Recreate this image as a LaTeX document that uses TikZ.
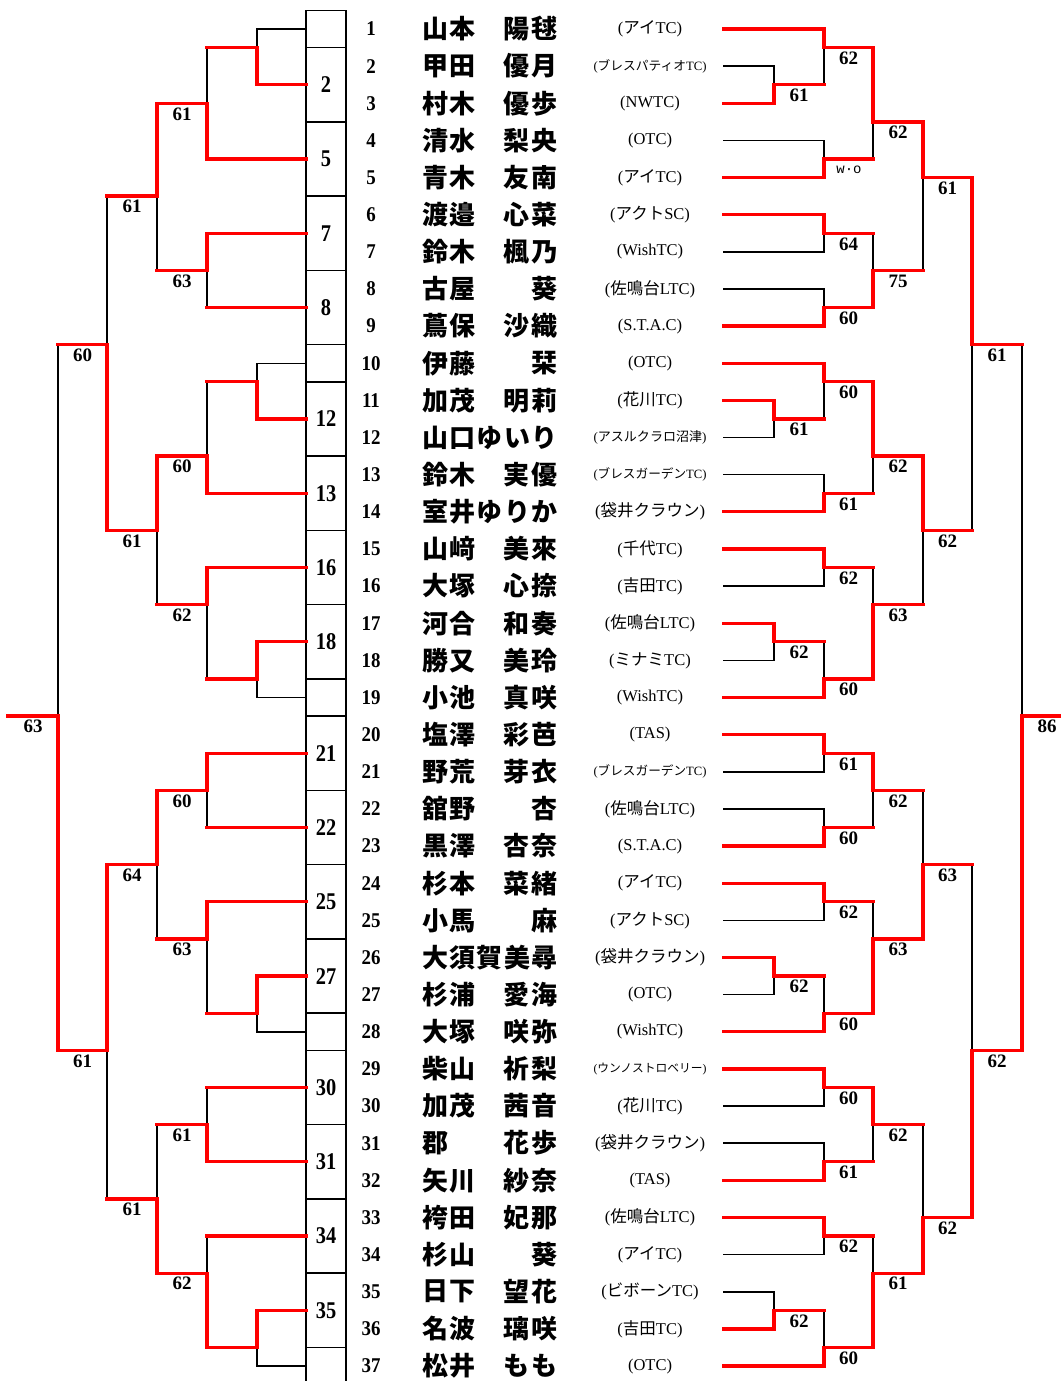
\documentclass[tikz,border=0pt]{standalone}
\usepackage{fontspec}
\usepackage{graphicx}
\setmainfont{Liberation Serif}
\newfontfamily\cjk{Noto Sans CJK JP}
\newfontfamily\monof{Liberation Mono}
\usetikzlibrary{calc}
\pgfdeclarelayer{bg}
\pgfsetlayers{bg,main}
\newsavebox\clubbox
\newcommand\club[1]{\sbox\clubbox{#1}\ifdim\wd\clubbox>113pt\resizebox{113pt}{!}{\usebox\clubbox}\else\usebox\clubbox\fi}
\newcommand\jp[1]{{\cjk #1}}
\def\cellloop#1{\ifx#1\relax\else\makebox[27.3pt]{#1}\expandafter\cellloop\fi}
\newcommand\cells[1]{\cellloop#1\relax}
\newcount\scn
\newcommand\mtch[7]{%
  \begin{pgfonlayer}{bg}\draw[bk] (#1 |- #3) -- (#1 |- #4);\end{pgfonlayer}
  \draw[rd] (#1 |- #6) -- (#1 |- #5) -- (#2 |- #5);
  \global\advance\scn by 1
  \node[sc] (sc-\the\scn) at ($(#1 |- #5)!.5!(#2 |- #5)$) {#7};
}
\newcommand\mtchn[6]{%
  \begin{pgfonlayer}{bg}\draw[bk] (#1 |- #3) -- (#1 |- #4);\end{pgfonlayer}
  \draw[rd] (#1 |- #6) -- (#1 |- #5) -- (#2 |- #5);
}
\newcommand\rlr[3]{\draw[rd] (#1 |- #3) -- (#2 |- #3);}
\newcommand\rlb[3]{\begin{pgfonlayer}{bg}\draw[bk] (#1 |- #3) -- (#2 |- #3);\end{pgfonlayer}}
\newcommand\pname[3]{%
  \node[pn] (pn#1) at (NN |- r#1) {\scalebox{0.9}[1]{#1}};
  \node[nm,anchor=west] (sn#1) at (NL |- r#1) {\cells{#2}};
  \node[nm,anchor=east] (gn#1) at (NR |- r#1) {\cells{#3}};
}
\newcommand\pnamef[2]{%
  \node[pn] (pn#1) at (NN |- r#1) {\scalebox{0.9}[1]{#1}};
  \node[nm,anchor=west] (sn#1) at (NL |- r#1) {\cells{#2}};
}
\newcommand\clb[2]{\node[cl] (cl#1) at (CC |- r#1) {\club{#2}};}
\newcommand\boxno[2]{\node[bx] (bx#1) at (BX |- #2) {\scalebox{0.85}[1]{#1}};}
\begin{document}
\begin{tikzpicture}[x=1pt,y=-1pt,
  bk/.style={line width=1.5pt,black,line cap=rect},
  rd/.style={line width=3.3pt,red,line cap=rect},
  sc/.style={font=\bfseries\fontsize{19}{19}\selectfont,anchor=north,inner sep=0pt,yshift=-4pt},
  pn/.style={font=\bfseries\fontsize{21}{21}\selectfont,inner sep=0pt},
  bx/.style={font=\bfseries\fontsize{24}{24}\selectfont,inner sep=0pt},
  nm/.style={font=\cjk\bfseries\fontsize{26}{26}\selectfont,inner sep=0pt},
  cl/.style={font=\fontsize{16.5}{16.5}\selectfont,inner sep=0pt}]
\useasboundingbox (0,0) rectangle (1060,1381);
\foreach \i in {1,...,37} {
  \coordinate (r\i) at (0,{29+(\i-1)*37.14});
  \coordinate (b\i) at (0,{29+(\i-0.5)*37.14});
}
\coordinate (b0) at (0,10.4);
\coordinate (bend) at (0,1381);
% x levels
\coordinate (L0) at (306,0); \coordinate (L1) at (257,0); \coordinate (L2) at (207,0);
\coordinate (L3) at (157,0); \coordinate (L4) at (107,0); \coordinate (L5) at (58,0);
\coordinate (L6) at (8,0);
\coordinate (R0) at (724,0); \coordinate (R1) at (774,0); \coordinate (R2) at (824,0);
\coordinate (R3) at (873,0); \coordinate (R4) at (923,0); \coordinate (R5) at (972,0);
\coordinate (R6) at (1022,0); \coordinate (R7) at (1072,0);
\coordinate (BL) at (306,0); \coordinate (BR) at (346,0); \coordinate (BX) at (326,0);
\coordinate (NN) at (371,0); \coordinate (NL) at (421.5,0); \coordinate (NR) at (558,0);
\coordinate (CC) at (650,0);
% box column
\begin{pgfonlayer}{bg}
\draw[bk] (BL |- b0) -- (BL |- bend) (BR |- b0) -- (BR |- bend);
\foreach \k in {0,1,3,5,7,9,10,12,14,16,18,19,21,23,25,27,28,30,32,34,36}
  \draw[bk] (BL |- b\k) -- (BR |- b\k);
\end{pgfonlayer}
\boxno{2}{b2}\boxno{5}{b4}\boxno{7}{b6}\boxno{8}{b8}
\boxno{12}{b11}\boxno{13}{b13}\boxno{16}{b15}\boxno{18}{b17}
\boxno{21}{b20}\boxno{22}{b22}\boxno{25}{b24}\boxno{27}{b26}
\boxno{30}{b29}\boxno{31}{b31}\boxno{34}{b33}\boxno{35}{b35}
% right row lines
\foreach \k in {1,5,6,9,10,14,15,19,20,23,24,28,29,32,33,37} {\rlr{R0}{R2}{r\k}}
\foreach \k in {4,7,8,13,16,21,22,25,30,31,34} {\rlb{R0}{R2}{r\k}}
\foreach \k in {3,11,17,26,36} {\rlr{R0}{R1}{r\k}}
\foreach \k in {2,12,18,27,35} {\rlb{R0}{R1}{r\k}}
% left box lines
\foreach \k in {1,10,19,28,37} {\rlb{L0}{L1}{r\k}}
\foreach \k in {2,11,17,26,35} {\rlr{L0}{L1}{b\k}}
\foreach \k in {4,6,8,13,15,20,22,24,29,31,33} {\rlr{L0}{L2}{b\k}}
% right bracket
\mtch{R1}{R2}{r2}{r3}{b2}{r3}{61}
\mtch{R1}{R2}{r11}{r12}{b11}{r11}{61}
\mtch{R1}{R2}{r17}{r18}{b17}{r17}{62}
\mtch{R1}{R2}{r26}{r27}{b26}{r26}{62}
\mtch{R1}{R2}{r35}{r36}{b35}{r36}{62}
\mtch{R2}{R3}{r1}{b2}{b1}{r1}{62}
\mtchn{R2}{R3}{r4}{r5}{b4}{r5}
\node[font=\monof\fontsize{14}{14}\selectfont,inner sep=0pt] (wo) at (849,170) {w·o};
\mtch{R2}{R3}{r6}{r7}{b6}{r6}{64}
\mtch{R2}{R3}{r8}{r9}{b8}{r9}{60}
\mtch{R2}{R3}{r10}{b11}{b10}{r10}{60}
\mtch{R2}{R3}{r13}{r14}{b13}{r14}{61}
\mtch{R2}{R3}{r15}{r16}{b15}{r15}{62}
\mtch{R2}{R3}{b17}{r19}{b18}{r19}{60}
\mtch{R2}{R3}{r20}{r21}{b20}{r20}{61}
\mtch{R2}{R3}{r22}{r23}{b22}{r23}{60}
\mtch{R2}{R3}{r24}{r25}{b24}{r24}{62}
\mtch{R2}{R3}{b26}{r28}{b27}{r28}{60}
\mtch{R2}{R3}{r29}{r30}{b29}{r29}{60}
\mtch{R2}{R3}{r31}{r32}{b31}{r32}{61}
\mtch{R2}{R3}{r33}{r34}{b33}{r33}{62}
\mtch{R2}{R3}{b35}{r37}{b36}{r37}{60}
\mtch{R3}{R4}{b1}{b4}{b3}{b1}{62}
\mtch{R3}{R4}{b6}{b8}{b7}{b8}{75}
\mtch{R3}{R4}{b10}{b13}{b12}{b10}{62}
\mtch{R3}{R4}{b15}{b18}{b16}{b18}{63}
\mtch{R3}{R4}{b20}{b22}{b21}{b20}{62}
\mtch{R3}{R4}{b24}{b27}{b25}{b27}{63}
\mtch{R3}{R4}{b29}{b31}{b30}{b29}{62}
\mtch{R3}{R4}{b33}{b36}{b34}{b36}{61}
\mtch{R4}{R5}{b3}{b7}{r5}{b3}{61}
\mtch{R4}{R5}{b12}{b16}{b14}{b12}{62}
\mtch{R4}{R5}{b21}{b25}{b23}{b25}{63}
\mtch{R4}{R5}{b30}{b34}{r33}{b34}{62}
\mtch{R5}{R6}{r5}{b14}{b9}{r5}{61}
\mtch{R5}{R6}{b23}{r33}{b28}{r33}{62}
\mtch{R6}{R7}{b9}{b28}{b19}{b28}{86}
% left bracket
\mtchn{L1}{L2}{r1}{b2}{b1}{b2}
\mtchn{L1}{L2}{r10}{b11}{b10}{b11}
\mtchn{L1}{L2}{b17}{r19}{b18}{b17}
\mtchn{L1}{L2}{b26}{r28}{b27}{b26}
\mtchn{L1}{L2}{b35}{r37}{b36}{b35}
\mtch{L2}{L3}{b1}{b4}{r3}{b4}{61}
\mtch{L2}{L3}{b6}{b8}{b7}{b6}{63}
\mtch{L2}{L3}{b10}{b13}{b12}{b13}{60}
\mtch{L2}{L3}{b15}{b18}{b16}{b15}{62}
\mtch{L2}{L3}{b20}{b22}{b21}{b20}{60}
\mtch{L2}{L3}{b24}{b27}{b25}{b24}{63}
\mtch{L2}{L3}{b29}{b31}{b30}{b31}{61}
\mtch{L2}{L3}{b33}{b36}{b34}{b36}{62}
\mtch{L3}{L4}{r3}{b7}{b5}{r3}{61}
\mtch{L3}{L4}{b12}{b16}{b14}{b12}{61}
\mtch{L3}{L4}{b21}{b25}{b23}{b21}{64}
\mtch{L3}{L4}{b30}{b34}{b32}{b34}{61}
\mtch{L4}{L5}{b5}{b14}{b9}{b14}{60}
\mtch{L4}{L5}{b23}{b32}{b28}{b23}{61}
\mtch{L5}{L6}{b9}{b28}{b19}{b28}{63}
% players
\pname{1}{山本}{陽毬}
\pname{2}{甲田}{優月}
\pname{3}{村木}{優歩}
\pname{4}{清水}{梨央}
\pname{5}{青木}{友南}
\pname{6}{渡邉}{心菜}
\pname{7}{鈴木}{楓乃}
\pname{8}{古屋}{葵}
\pname{9}{蔦保}{沙織}
\pname{10}{伊藤}{栞}
\pname{11}{加茂}{明莉}
\pnamef{12}{山口ゆいり}
\pname{13}{鈴木}{実優}
\pnamef{14}{室井ゆりか}
\pname{15}{山﨑}{美來}
\pname{16}{大塚}{心捺}
\pname{17}{河合}{和奏}
\pname{18}{勝又}{美玲}
\pname{19}{小池}{真咲}
\pname{20}{塩澤}{彩芭}
\pname{21}{野荒}{芽衣}
\pname{22}{舘野}{杏}
\pname{23}{黒澤}{杏奈}
\pname{24}{杉本}{菜緒}
\pname{25}{小馬}{麻}
\pnamef{26}{大須賀美尋}
\pname{27}{杉浦}{愛海}
\pname{28}{大塚}{咲弥}
\pname{29}{柴山}{祈梨}
\pname{30}{加茂}{茜音}
\pname{31}{郡}{花歩}
\pname{32}{矢川}{紗奈}
\pname{33}{袴田}{妃那}
\pname{34}{杉山}{葵}
\pname{35}{日下}{望花}
\pname{36}{名波}{璃咲}
\pname{37}{松井}{もも}
% clubs
\clb{1}{(\jp{アイ}TC)}
\clb{2}{(\jp{ブレスパティオ}TC)}
\clb{3}{(NWTC)}
\clb{4}{(OTC)}
\clb{5}{(\jp{アイ}TC)}
\clb{6}{(\jp{アクト}SC)}
\clb{7}{(WishTC)}
\clb{8}{(\jp{佐鳴台}LTC)}
\clb{9}{(S.T.A.C)}
\clb{10}{(OTC)}
\clb{11}{(\jp{花川}TC)}
\clb{12}{(\jp{アスルクラロ沼津})}
\clb{13}{(\jp{ブレスガーデン}TC)}
\clb{14}{(\jp{袋井クラウン})}
\clb{15}{(\jp{千代}TC)}
\clb{16}{(\jp{吉田}TC)}
\clb{17}{(\jp{佐鳴台}LTC)}
\clb{18}{(\jp{ミナミ}TC)}
\clb{19}{(WishTC)}
\clb{20}{(TAS)}
\clb{21}{(\jp{ブレスガーデン}TC)}
\clb{22}{(\jp{佐鳴台}LTC)}
\clb{23}{(S.T.A.C)}
\clb{24}{(\jp{アイ}TC)}
\clb{25}{(\jp{アクト}SC)}
\clb{26}{(\jp{袋井クラウン})}
\clb{27}{(OTC)}
\clb{28}{(WishTC)}
\clb{29}{(\jp{ウンノストロベリー})}
\clb{30}{(\jp{花川}TC)}
\clb{31}{(\jp{袋井クラウン})}
\clb{32}{(TAS)}
\clb{33}{(\jp{佐鳴台}LTC)}
\clb{34}{(\jp{アイ}TC)}
\clb{35}{(\jp{ビボーン}TC)}
\clb{36}{(\jp{吉田}TC)}
\clb{37}{(OTC)}
\end{tikzpicture}
\end{document}
